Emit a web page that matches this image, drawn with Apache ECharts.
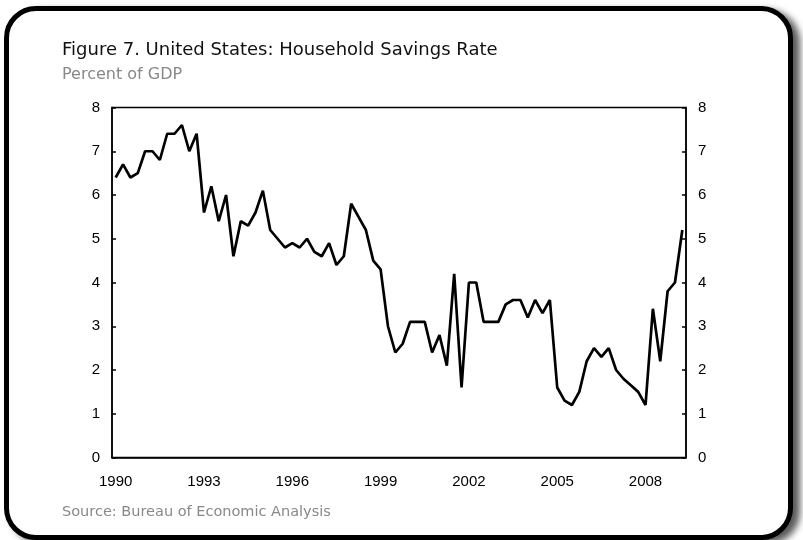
<!DOCTYPE html>
<html>
<head>
<meta charset="utf-8">
<script src="https://cdn.jsdelivr.net/npm/echarts@6/dist/echarts.min.js"></script>
<style>
  html, body { margin: 0; padding: 0; background: #fff; }
  #card {
    position: absolute; left: 4px; top: 6px;
    width: 779px; height: 524px;
    border: 5px solid #000; border-radius: 32px;
    box-shadow: 7px 4px 7px rgba(0,0,0,0.65);
    background: #fff;
  }
  #echart { position: absolute; left: 0; top: 0; width: 803px; height: 540px; }
</style>
</head>
<body>
<div id="card"></div>
<div id="echart"></div>
<script>
// quarterly, 1990Q1 - 2009Q2
let startYear = 1990
let savingsRate = [
    6.4, 6.7, 6.4, 6.5, 7.0, 7.0, 6.8, 7.4, 7.4, 7.6, 7.0, 7.4,
    5.6, 6.2, 5.4, 6.0, 4.6, 5.4, 5.3, 5.6, 6.1, 5.2, 5.0, 4.8,
    4.9, 4.8, 5.0, 4.7, 4.6, 4.9, 4.4, 4.6, 5.8, 5.5, 5.2, 4.5,
    4.3, 3.0, 2.4, 2.6, 3.1, 3.1, 3.1, 2.4, 2.8, 2.1, 4.2, 1.6,
    4.0, 4.0, 3.1, 3.1, 3.1, 3.5, 3.6, 3.6, 3.2, 3.6, 3.3, 3.6,
    1.6, 1.3, 1.2, 1.5, 2.2, 2.5, 2.3, 2.5, 2.0, 1.8, 1.65, 1.5,
    1.2, 3.4, 2.2, 3.8, 4.0, 5.2
]
let yTicks = [0, 1, 2, 3, 4, 5, 6, 7, 8]

let quarters = savingsRate.map((v, i) => (startYear + Math.floor(i / 4)) + 'Q' + (i % 4 + 1))

let echart = echarts.init(document.getElementById('echart'))

let labelFont = { color: '#000', fontSize: 15, fontFamily: 'Liberation Sans, Arial, sans-serif' }
let textFont = 'DejaVu Sans, Verdana, sans-serif'

let yAxisCommon = {
    type: 'value',
    min: yTicks[0],
    max: yTicks[yTicks.length - 1],
    interval: 1,
    splitLine: { show: false },
    axisLine: { show: true, lineStyle: { color: '#000', width: 1.5 } },
    axisTick: { show: true, inside: true, length: 4, lineStyle: { color: '#000', width: 1.5 } },
    axisLabel: Object.assign({ margin: 12 }, labelFont)
}

let option = {
    animation: false,
    title: [
        {
            text: 'Figure 7. United States: Household Savings Rate',
            left: 57, top: 36,
            textStyle: { color: '#111', fontSize: 18, fontWeight: 'normal', fontFamily: textFont }
        },
        {
            text: 'Percent of GDP',
            left: 57, top: 62,
            textStyle: { color: '#888', fontSize: 16, fontWeight: 'normal', fontFamily: textFont }
        },
        {
            text: 'Source: Bureau of Economic Analysis',
            left: 57, top: 500,
            textStyle: { color: '#888', fontSize: 14.5, fontWeight: 'normal', fontFamily: textFont }
        }
    ],
    grid: {
        left: 112, right: 117, top: 107.5, bottom: 82.5,
        show: true, borderColor: '#000', borderWidth: 1.5
    },
    xAxis: {
        type: 'category',
        data: quarters,
        boundaryGap: true,
        axisLine: { show: true, lineStyle: { color: '#000', width: 1.5 } },
        axisTick: { show: false },
        axisLabel: Object.assign({
            interval: 11,
            margin: 17,
            formatter: q => q.slice(0, 4)
        }, labelFont)
    },
    yAxis: [
        Object.assign({ position: 'left' }, yAxisCommon),
        Object.assign({ position: 'right' }, yAxisCommon)
    ],
    series: [
        {
            type: 'line',
            data: savingsRate,
            showSymbol: false,
            lineStyle: { color: '#000', width: 2.7 },
            itemStyle: { color: '#000' }
        }
    ]
}

echart.setOption(option)
</script>
</body>
</html>
